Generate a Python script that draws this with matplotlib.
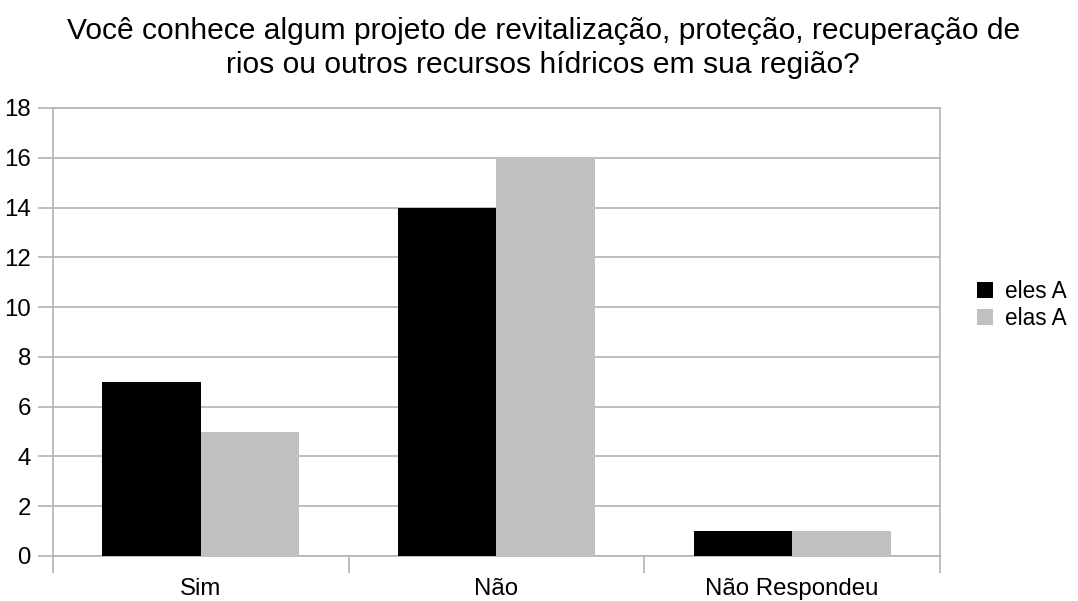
import matplotlib
matplotlib.use("Agg")
import matplotlib.pyplot as plt
import numpy as np
from matplotlib.patches import Patch

categories = ["Sim", "Não", "Não Respondeu"]
eles_A = [7, 14, 1]
elas_A = [5, 16, 1]
series_names = ["eles A", "elas A"]
title = "Você conhece algum projeto de revitalização, proteção, recuperação de\nrios ou outros recursos hídricos em sua região?"

plt.rcParams['font.family'] = ['Liberation Sans', 'DejaVu Sans']
grid_c = "#b3b3b3"

fig = plt.figure(figsize=(10.78, 6.01), dpi=100)
ax = fig.add_axes([53/1078, 45/601, 887/1078, 448/601])

x = np.arange(len(categories))
w = 1/3
ax.bar(x - w/2, eles_A, width=w, color="#000000", zorder=3)
ax.bar(x + w/2, elas_A, width=w, color="#c0c0c0", zorder=3)

ax.set_xlim(-0.5, len(categories) - 0.5)
ax.set_ylim(0, 18)
ax.set_yticks(np.arange(0, 19, 2))
ax.yaxis.grid(True, color=grid_c, linewidth=1.2, zorder=0)
ax.set_xticks(x)
ax.set_xticklabels(categories)
ax.set_xticks(np.arange(-0.5, len(categories), 1), minor=True)
ax.tick_params(axis='x', which='major', length=0, pad=16, labelsize=17.3)
ax.tick_params(axis='x', which='minor', length=12, color=grid_c, width=1.2)
ax.tick_params(axis='y', length=11, color=grid_c, width=1.2, pad=5, labelsize=17.3)
for s in ["left", "right", "bottom", "top"]:
    ax.spines[s].set_color(grid_c)
    ax.spines[s].set_linewidth(1.2)

fig.text(0.504, 1 - 48/601, title, ha="center", va="center", fontsize=21.6, linespacing=1.28)

handles = [Patch(facecolor="#000000"), Patch(facecolor="#c0c0c0")]
fig.legend(handles, series_names, loc="center left", bbox_to_anchor=(977/1078, 1 - 305/601),
           frameon=False, fontsize=16.3, handlelength=0.7, handleheight=0.7,
           handletextpad=0.55, labelspacing=0.15, borderpad=0, borderaxespad=0)

fig.savefig("out.png", dpi=100)
